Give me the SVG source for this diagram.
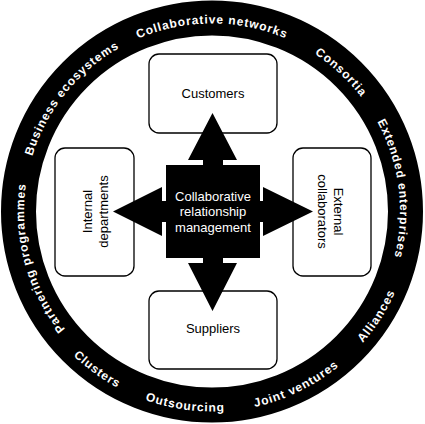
<svg xmlns="http://www.w3.org/2000/svg" width="425" height="424" viewBox="0 0 425 424">
<style>
.ring{font-family:"Liberation Sans",Arial,sans-serif;font-size:12px;font-weight:bold;fill:#fff;letter-spacing:0.9px}
.box{fill:#fff;stroke:#000;stroke-width:1.3}
.lbl{font-family:"Liberation Sans",Arial,sans-serif;font-size:13px;fill:#000;text-anchor:middle}
.clbl{font-family:"Liberation Sans",Arial,sans-serif;font-size:13px;fill:#fff;text-anchor:middle}
.arrow{fill:#000}
</style>
<defs>
<path id="cw" d="M 212,399.5 A 188 188 0 1 1 212,23.5 A 188 188 0 1 1 212,399.5"/>
<path id="ccw" d="M 212,11.5 A 200 200 0 1 0 212,411.5 A 200 200 0 1 0 212,11.5"/>
</defs>
<rect width="425" height="424" fill="#fff"/>
<g id="ring">
<circle cx="212" cy="211.5" r="193.5" fill="none" stroke="#000" stroke-width="35"/>
<text class="ring" text-anchor="middle"><textPath href="#cw" startOffset="50%">Collaborative networks</textPath></text>
<text class="ring" text-anchor="middle"><textPath href="#cw" startOffset="61.9%">Consortia</textPath></text>
<text class="ring" text-anchor="middle"><textPath href="#cw" startOffset="73%">Extended enterprises</textPath></text>
<text class="ring" text-anchor="middle"><textPath href="#cw" startOffset="35.8%">Business ecosystems</textPath></text>
<text class="ring" text-anchor="middle"><textPath href="#cw" startOffset="20.8%">Partnering programmes</textPath></text>
<text class="ring" text-anchor="middle"><textPath href="#ccw" startOffset="66%">Alliances</textPath></text>
<text class="ring" text-anchor="middle"><textPath href="#ccw" startOffset="57.2%">Joint ventures</textPath></text>
<text class="ring" text-anchor="middle"><textPath href="#ccw" startOffset="47.8%">Outsourcing</textPath></text>
<text class="ring" text-anchor="middle"><textPath href="#ccw" startOffset="40%">Clusters</textPath></text>
</g>
<g id="customers">
<rect class="box" x="149" y="54" width="128" height="79" rx="10"/>
<text class="lbl" x="213" y="98">Customers</text>
</g>
<g id="suppliers">
<rect class="box" x="149" y="291" width="128" height="78" rx="10"/>
<text class="lbl" x="213" y="333">Suppliers</text>
</g>
<g id="internal">
<rect class="box" x="55" y="148" width="79" height="128" rx="10"/>
<text class="lbl" transform="translate(95.5,211.5) rotate(-90)"><tspan x="0" y="-3.5">Internal</tspan><tspan x="0" y="12">departments</tspan></text>
</g>
<g id="external">
<rect class="box" x="293" y="148" width="78" height="128" rx="10"/>
<text class="lbl" transform="translate(330,211.5) rotate(90)"><tspan x="0" y="-3.5">External</tspan><tspan x="0" y="12">collaborators</tspan></text>
</g>
<g id="connectors">
<polygon class="arrow" points="203,166 203,160 188,160 212.5,113 237,160 223,160 223,166"/>
<polygon class="arrow" points="203,257 203,263 188,263 212.5,311 237,263 223,263 223,257"/>
<polygon class="arrow" points="167,201 162,201 162,187 113,211.5 162,236 162,222 167,222"/>
<polygon class="arrow" points="259,201 263,201 263,187 313,211.5 263,236 263,222 259,222"/>
</g>
<g id="crm">
<rect x="166" y="165" width="94" height="93" fill="#000"/>
<text class="clbl" x="213" y="200.5">Collaborative</text>
<text class="clbl" x="213" y="216">relationship</text>
<text class="clbl" x="213" y="231.5">management</text>
</g>
</svg>
